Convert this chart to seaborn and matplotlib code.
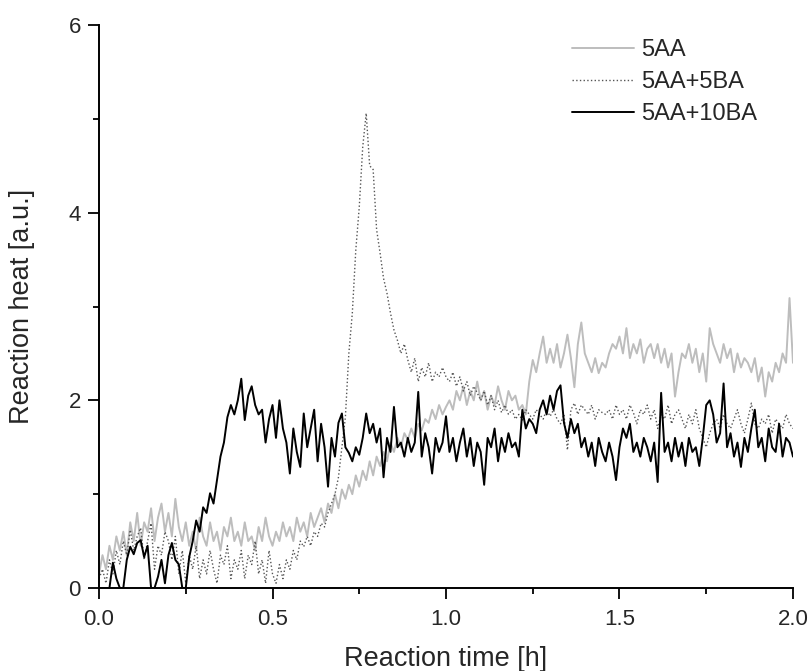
import numpy as np
import pandas as pd
import matplotlib
matplotlib.use("Agg")
import matplotlib.pyplot as plt
import seaborn as sns
from matplotlib.ticker import MultipleLocator

# time axis in hours, 0.00 .. 2.00 step 0.01
time_h = [round(i * 0.01, 2) for i in range(201)]

aa5 = [
    0.15, 0.35, 0.2, 0.45, 0.3, 0.55, 0.4, 0.6, 0.35, 0.7,
    0.5, 0.8, 0.45, 0.7, 0.6, 0.85, 0.5, 0.75, 0.9, 0.6,
    0.8, 0.55, 0.95, 0.65, 0.5, 0.7, 0.45, 0.6, 0.4, 0.75,
    0.55, 0.45, 0.7, 0.5, 0.6, 0.4, 0.65, 0.55, 0.75, 0.5,
    0.6, 0.45, 0.7, 0.5, 0.55, 0.4, 0.65, 0.5, 0.75, 0.55,
    0.45, 0.6, 0.5, 0.7, 0.55, 0.65, 0.5, 0.75, 0.6, 0.7,
    0.55, 0.8, 0.65, 0.75, 0.85, 0.7, 0.9, 0.8, 1.0, 0.85,
    1.05, 0.95, 1.1, 1.0, 1.2, 1.08, 1.25, 1.15, 1.35, 1.2,
    1.4, 1.3, 1.45, 1.35, 1.55, 1.45, 1.6, 1.5, 1.65, 1.58,
    1.7, 1.6, 1.75, 1.68, 1.8, 1.76, 1.9, 1.8, 1.95, 1.85,
    1.93, 2.0, 1.9, 2.1, 2.0, 2.15, 1.95, 2.1, 2.0, 2.2,
    2.0, 2.1, 1.9, 2.05, 1.95, 2.15, 2.0, 1.9, 2.1, 2.0,
    2.05, 1.9, 1.95, 1.85, 2.2, 2.43, 2.3, 2.5, 2.68, 2.4,
    2.55, 2.4, 2.6, 2.35, 2.5, 2.7, 2.45, 2.14, 2.6, 2.83,
    2.5, 2.4, 2.3, 2.45, 2.29, 2.4, 2.35, 2.5, 2.6, 2.55,
    2.68, 2.5, 2.77, 2.45, 2.6, 2.5, 2.65, 2.4, 2.55, 2.6,
    2.45, 2.6, 2.4, 2.55, 2.35, 2.5, 2.04, 2.3, 2.5, 2.45,
    2.6, 2.4, 2.55, 2.3, 2.5, 2.2, 2.77, 2.6, 2.5, 2.4,
    2.6, 2.45, 2.55, 2.3, 2.5, 2.35, 2.45, 2.4, 2.3, 2.45,
    2.2, 2.35, 2.04, 2.3, 2.2, 2.4, 2.3, 2.5, 2.4, 3.09,
    2.4,
]

aa5_ba5 = [
    0.1, 0.2, 0.05, 0.3, 0.15, 0.4, 0.25, 0.5, 0.35, 0.62,
    0.4, 0.55, 0.64, 0.3, 0.5, 0.69, 0.2, 0.45, 0.35, 0.6,
    0.5, 0.3, 0.55, 0.15, 0.4, 0.05, 0.35, 0.2, 0.45, 0.1,
    0.3, 0.15, 0.4, 0.2, 0.05, 0.35, 0.25, 0.45, 0.1, 0.3,
    0.2, 0.4, 0.1, 0.35, 0.25, 0.5, 0.15, 0.3, 0.05, 0.4,
    0.15, 0.05, 0.25, 0.1, 0.3, 0.2, 0.4, 0.3, 0.5, 0.44,
    0.55, 0.45, 0.6, 0.55, 0.69, 0.65, 0.8, 0.9, 1.0, 1.18,
    1.5, 1.82, 2.5, 2.93, 3.6, 4.06, 4.7, 5.06, 4.5, 4.46,
    3.82, 3.57, 3.3, 3.14, 2.93, 2.75, 2.64, 2.5, 2.6, 2.43,
    2.3, 2.45, 2.2, 2.35, 2.25, 2.4, 2.2, 2.3, 2.25, 2.35,
    2.25, 2.2, 2.3, 2.15, 2.25, 2.1, 2.2, 2.05, 2.15, 2.08,
    2.0, 2.1, 1.95, 2.05, 1.9, 2.0, 1.87, 1.95, 1.85, 1.9,
    1.8, 1.85, 1.79, 1.9, 1.85, 1.8, 1.9, 1.85, 1.8, 1.9,
    1.83, 1.9, 1.8, 1.75, 1.85, 1.47, 1.9, 1.97, 1.85, 1.95,
    1.9, 1.85, 1.95, 1.8, 1.9, 1.87, 1.85, 1.9, 1.8, 1.95,
    1.85, 1.9, 1.8, 1.95, 1.87, 1.75, 1.9, 1.85, 1.95, 1.8,
    1.9, 1.7, 1.85, 1.8, 1.95, 1.75, 1.85, 1.9, 1.8, 1.7,
    1.85, 1.75, 1.9, 1.7, 1.6, 1.5, 1.65, 1.75, 1.8, 1.7,
    1.85, 1.75, 1.7, 1.8, 1.9, 1.75, 1.65, 1.8, 1.97, 1.75,
    1.7, 1.8, 1.75, 1.85, 1.65, 1.8, 1.75, 1.7, 1.85, 1.75,
    1.7,
]

aa5_ba10 = [
    0.0, 0.0, 0.0, 0.0, 0.27, 0.1, 0.0, 0.0, 0.3, 0.44,
    0.36, 0.48, 0.51, 0.33, 0.45, 0.0, 0.0, 0.12, 0.3, 0.05,
    0.35, 0.48, 0.3, 0.25, 0.0, 0.0, 0.33, 0.5, 0.72, 0.6,
    0.86, 0.8, 1.01, 0.9, 1.15, 1.4, 1.55, 1.82, 1.95, 1.85,
    2.0, 2.23, 1.79, 2.05, 2.15, 1.95, 1.85, 1.9, 1.55, 1.8,
    1.95, 1.6, 2.0, 1.7, 1.55, 1.22, 1.7, 1.45, 1.29, 1.86,
    1.5, 1.7, 1.9, 1.35, 1.75, 1.5, 1.08, 1.6, 1.4, 1.76,
    1.86, 1.5, 1.44, 1.35, 1.5, 1.42, 1.6, 1.86, 1.65, 1.75,
    1.55, 1.7, 1.18, 1.6, 1.45, 1.93, 1.5, 1.55, 1.4, 1.6,
    1.45, 1.55, 2.09, 1.4, 1.65, 1.5, 1.22, 1.6, 1.45, 1.55,
    1.83, 1.45, 1.6, 1.35, 1.55, 1.7, 1.4, 1.6, 1.3, 1.55,
    1.45, 1.1, 1.6, 1.5, 1.7, 1.35, 1.6, 1.45, 1.65, 1.5,
    1.55, 1.4, 1.9, 1.7, 1.8, 1.75, 1.65, 1.9, 2.0, 1.85,
    2.05, 1.9, 2.1, 2.16, 1.76, 1.6, 1.8, 1.65, 1.75, 1.5,
    1.6, 1.4, 1.55, 1.3, 1.6, 1.45, 1.35, 1.55, 1.4, 1.15,
    1.5, 1.7, 1.6, 1.75, 1.45, 1.55, 1.4, 1.6, 1.5, 1.35,
    1.55, 1.13, 2.08, 1.45, 1.55, 1.35, 1.6, 1.4, 1.55, 1.3,
    1.6, 1.45, 1.5, 1.3, 1.6, 1.95, 2.0, 1.85, 1.55, 1.65,
    2.18, 1.5, 1.65, 1.4, 1.55, 1.29, 1.6, 1.45, 1.7, 1.9,
    1.5, 1.6, 1.35, 1.7, 1.5, 1.45, 1.75, 1.4, 1.6, 1.55,
    1.4,
]

labels = ["5AA", "5AA+5BA", "5AA+10BA"]
x_ticks = [0.0, 0.5, 1.0, 1.5, 2.0]
y_ticks = [0, 2, 4, 6]

sns.set_style("ticks")
plt.rcParams["font.family"] = ["Liberation Sans", "DejaVu Sans"]

fig = plt.figure(figsize=(8.09, 6.71), dpi=100)
ax = fig.add_axes([0.1224, 0.1237, 0.8578, 0.839])

df = pd.DataFrame({"t": time_h, labels[0]: aa5, labels[1]: aa5_ba5, labels[2]: aa5_ba10})

sns.lineplot(data=df, x="t", y=labels[0], ax=ax, color="#bdbdbd", lw=1.4,
             label=labels[0], estimator=None, sort=False)
sns.lineplot(data=df, x="t", y=labels[1], ax=ax, color="#555555", lw=1.0,
             linestyle=":", label=labels[1], estimator=None, sort=False)
sns.lineplot(data=df, x="t", y=labels[2], ax=ax, color="black", lw=1.4,
             label=labels[2], estimator=None, sort=False)

ax.set_xlim(0, 2.0)
ax.set_ylim(0, 6)
ax.set_xticks(x_ticks)
ax.set_xticklabels([f"{v:.1f}" for v in x_ticks])
ax.set_yticks(y_ticks)
ax.set_yticklabels([str(v) for v in y_ticks])
ax.xaxis.set_minor_locator(MultipleLocator(0.25))
ax.yaxis.set_minor_locator(MultipleLocator(1))

ax.tick_params(which="major", direction="out", length=8, width=1.3, labelsize=16, color="black")
ax.tick_params(axis="x", which="major", pad=7)
ax.tick_params(axis="y", which="major", pad=5)
ax.tick_params(which="minor", direction="out", length=4.5, width=1.3, color="black")
for s in ["left", "bottom"]:
    ax.spines[s].set_linewidth(1.4)
    ax.spines[s].set_color("black")
sns.despine(ax=ax)

ax.set_xlabel("Reaction time [h]", fontsize=19.5, labelpad=12)
ax.set_ylabel("Reaction heat [a.u.]", fontsize=19.5, labelpad=24)

leg = ax.legend(loc="upper left", bbox_to_anchor=(0.682, 0.975), frameon=False,
                fontsize=17, handlelength=2.6, handletextpad=0.3, labelspacing=0.42,
                borderaxespad=0, borderpad=0)

fig.savefig("out.png", dpi=100)
